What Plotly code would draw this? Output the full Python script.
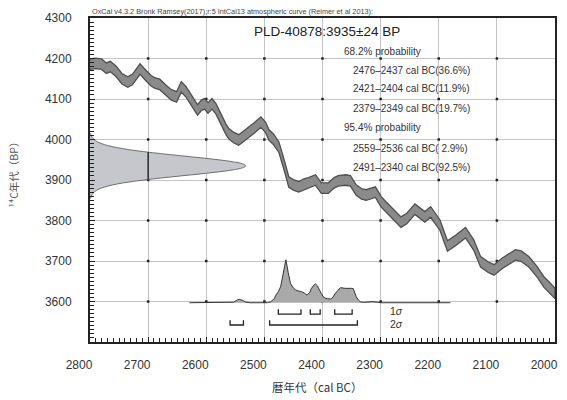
import numpy as np
import plotly.graph_objects as go

# ---------------- data ----------------
# IntCal13 calibration curve: year BC, 14C age BP
CURVE_YEAR = [2800, 2790, 2780, 2772, 2765, 2755, 2745, 2735, 2727, 2714, 2705, 2695,
              2689, 2680, 2670, 2660, 2651, 2643, 2635, 2625, 2615, 2608, 2603, 2597,
              2590, 2583, 2575, 2566, 2561, 2553, 2544, 2535, 2527, 2518, 2506, 2498,
              2492, 2484, 2475, 2467, 2458, 2450, 2441, 2432, 2424, 2412, 2402, 2390,
              2380, 2373, 2360, 2352, 2342, 2333, 2325, 2309, 2299, 2290, 2282, 2265,
              2255, 2241, 2224, 2214, 2198, 2185, 2170, 2154, 2140, 2128, 2115, 2105,
              2090, 2068, 2058, 2045, 2030, 2019, 2008, 2000]
CURVE_BP = [4186, 4188, 4186, 4176, 4180, 4168, 4150, 4142, 4148, 4174, 4160, 4145,
            4140, 4136, 4122, 4110, 4105, 4130, 4118, 4095, 4073, 4085, 4088, 4078,
            4088, 4075, 4050, 4025, 4014, 4005, 3999, 4010, 4018, 4028, 4043, 4030,
            4011, 4000, 3981, 3942, 3895, 3888, 3883, 3890, 3893, 3900, 3880, 3880,
            3893, 3898, 3900, 3898, 3875, 3866, 3863, 3870, 3846, 3832, 3821, 3796,
            3805, 3828, 3809, 3821, 3789, 3737, 3752, 3770, 3740, 3698, 3685, 3678,
            3695, 3715, 3712, 3698, 3672, 3648, 3632, 3620]
CURVE_SIGMA = 13  # half-width of the 1-sigma band (BP)

# measured radiocarbon date
DATE_LABEL = "PLD-40878:3935±24 BP"
DATE_BP = 3935
# normal-shaped date distribution on the y axis (offset from DATE_BP, relative width)
GAUSS_OFFSET = [-80, -75, -70, -65, -60, -55, -50, -45, -40, -35, -30, -25, -20, -15, -10, -5, 0,
                5, 10, 15, 20, 25, 30, 35, 40, 45, 50, 55, 60, 65, 70, 75, 80]
GAUSS_REL = [0.004, 0.008, 0.014, 0.026, 0.044, 0.073, 0.114, 0.172, 0.249, 0.345, 0.458,
             0.581, 0.707, 0.823, 0.917, 0.979, 1.0, 0.979, 0.917, 0.823, 0.707, 0.581,
             0.458, 0.345, 0.249, 0.172, 0.114, 0.073, 0.044, 0.026, 0.014, 0.008, 0.004]
GAUSS_SPAN = 268  # years at peak
GAUSS_MARK_YEAR = 2700

# calibrated probability distribution (relative)
PROB_YEAR = [2629, 2560, 2553, 2546, 2543, 2538, 2532, 2525, 2495, 2489, 2483, 2480, 2476,
             2472, 2468, 2463, 2459, 2455, 2450, 2446, 2441, 2436, 2431, 2427, 2422, 2419,
             2414, 2412, 2409, 2407, 2402, 2398, 2392, 2386, 2382, 2378, 2373, 2369, 2361,
             2355, 2350, 2347, 2344, 2342, 2338, 2335, 2330, 2320, 2315, 2311, 2305, 2300, 2180]
PROB_REL = [0, 0, 0.012, 0.07, 0.077, 0.058, 0.014, 0, 0, 0.023, 0.094, 0.18, 0.258,
            0.375, 0.656, 1.0, 0.703, 0.445, 0.34, 0.297, 0.27, 0.258, 0.222, 0.18, 0.234, 0.335,
            0.422, 0.438, 0.398, 0.335, 0.211, 0.124, 0.094, 0.087, 0.129, 0.218, 0.304, 0.351, 0.335,
            0.34, 0.335, 0.328, 0.234, 0.14, 0.059, 0.023, 0.009, 0.007, 0.023, 0.023, 0.012, 0, 0]
PROB_BASE = 3597
PROB_PEAK = 106

# ranges
SIG1_RANGES = [(2476, 2437), (2421, 2404), (2379, 2349)]
SIG2_RANGES = [(2559, 2536), (2491, 2340)]
TEXT_LINES = ["68.2% probability",
              "2476–2437 cal BC(36.6%)",
              "2421–2404 cal BC(11.9%)",
              "2379–2349 cal BC(19.7%)",
              "95.4% probability",
              "2559–2536 cal BC( 2.9%)",
              "2491–2340 cal BC(92.5%)"]
TEXT_INDENT = [False, True, True, True, False, True, True]

X_TICKS = [2800, 2700, 2600, 2500, 2400, 2300, 2200, 2100, 2000]
Y_TICKS = [3600, 3700, 3800, 3900, 4000, 4100, 4200, 4300]

HEADER = "OxCal v4.3.2 Bronk Ramsey(2017);r:5 IntCal13 atmospheric curve (Reimer et al 2013):"
X_TITLE = "暦年代（cal BC）"
Y_TITLE = "¹⁴C年代（BP）"

FONT = "Liberation Sans, Arial, Noto Sans CJK JP"
JFONT = "Noto Sans CJK JP, Liberation Sans"

# ---------------- figure ----------------
fig = go.Figure()

# grid intersection dots
gx, gy = [], []
for xv in X_TICKS[1:-1]:
    for yv in Y_TICKS[:-1]:
        gx.append(xv)
        gy.append(yv)
fig.add_trace(go.Scatter(x=gx, y=gy, mode="markers",
                         marker=dict(symbol="square", size=2.5, color="#222"),
                         hoverinfo="skip", showlegend=False))

# date distribution on y axis
g_bp = [DATE_BP + o for o in GAUSS_OFFSET]
g_x = [2800 - GAUSS_SPAN * w for w in GAUSS_REL]
fig.add_trace(go.Scatter(x=[2800] + g_x + [2800], y=[g_bp[0]] + g_bp + [g_bp[-1]],
                         mode="lines", fill="toself", fillcolor="#c6c7cc",
                         line=dict(color="#6f6f6f", width=1, shape="spline"),
                         hoverinfo="skip", showlegend=False))
# vertical mark inside distribution
w_mark = (2800 - GAUSS_MARK_YEAR) / GAUSS_SPAN
lo_off = np.interp(w_mark, GAUSS_REL[0:17], GAUSS_OFFSET[0:17])
fig.add_trace(go.Scatter(x=[GAUSS_MARK_YEAR, GAUSS_MARK_YEAR],
                         y=[DATE_BP + lo_off, DATE_BP - lo_off],
                         mode="lines", line=dict(color="black", width=1.2),
                         hoverinfo="skip", showlegend=False))

# calibration curve band
up = [b + CURVE_SIGMA for b in CURVE_BP]
dn = [b - CURVE_SIGMA for b in CURVE_BP]
fig.add_trace(go.Scatter(x=CURVE_YEAR + CURVE_YEAR[::-1], y=up + dn[::-1],
                         mode="lines", fill="toself", fillcolor="#8a8a8a",
                         line=dict(color="#505050", width=1.3),
                         hoverinfo="skip", showlegend=False))

# calibrated probability
p_y = [PROB_BASE + PROB_PEAK * p for p in PROB_REL]
fig.add_trace(go.Scatter(x=PROB_YEAR, y=p_y, mode="lines", fill="toself",
                         fillcolor="#a9a9a9", line=dict(color="#333333", width=1),
                         hoverinfo="skip", showlegend=False))


def brackets(ranges, top, bottom):
    xs, ys = [], []
    for a, b in ranges:
        xs += [a, a, b, b, None]
        ys += [top, bottom, bottom, top, None]
    return xs, ys


bx, by = brackets(SIG1_RANGES, 3581, 3569)
fig.add_trace(go.Scatter(x=bx, y=by, mode="lines", line=dict(color="#222", width=1.3),
                         hoverinfo="skip", showlegend=False))
bx, by = brackets(SIG2_RANGES, 3554, 3542)
fig.add_trace(go.Scatter(x=bx, y=by, mode="lines", line=dict(color="#222", width=1.3),
                         hoverinfo="skip", showlegend=False))

ann = []
ann.append(dict(x=2287, y=3576, xref="x", yref="y", text="1<i>σ</i>", showarrow=False,
                xanchor="left", yanchor="middle", font=dict(size=10.5, color="#333", family=FONT)))
ann.append(dict(x=2287, y=3544, xref="x", yref="y", text="2<i>σ</i>", showarrow=False,
                xanchor="left", yanchor="middle", font=dict(size=10.5, color="#333", family=FONT)))

# header
ann.append(dict(x=0, y=1, xref="paper", yref="paper", text=HEADER, showarrow=False,
                xanchor="left", yanchor="bottom", yshift=0,
                font=dict(size=7.3, color="#444", family=FONT)))
# date label
ann.append(dict(x=0.509, y=0.957, xref="paper", yref="paper", text=DATE_LABEL, showarrow=False,
                xanchor="center", yanchor="middle", font=dict(size=13.5, color="#222", family=FONT)))
# probability lines
line_y = [51, 70, 89, 108, 128, 148, 167]
for t, ind, py in zip(TEXT_LINES, TEXT_INDENT, line_y):
    px = 353 if ind else 344
    ann.append(dict(x=(px - 90) / 468, y=1 - (py - 18) / 324, xref="paper", yref="paper",
                    text=t, showarrow=False, xanchor="left", yanchor="middle",
                    font=dict(size=10, color="#333", family=FONT)))
# axis titles
ann.append(dict(x=(318 - 90) / 468, y=-(387 - 342) / 324, xref="paper", yref="paper",
                text=X_TITLE, showarrow=False, xanchor="center", yanchor="middle",
                font=dict(size=11.5, color="#333", family=JFONT)))
ann.append(dict(x=-(90 - 13) / 468, y=1 - (172 - 18) / 324, xref="paper", yref="paper",
                text=Y_TITLE, showarrow=False, xanchor="center", yanchor="middle",
                textangle=-90, font=dict(size=10.5, color="#555", family=JFONT)))

fig.update_layout(
    width=567, height=400,
    margin=dict(l=90, r=9, t=18, b=58),
    paper_bgcolor="white", plot_bgcolor="white",
    annotations=ann,
    showlegend=False,
)
fig.update_xaxes(
    range=[2800, 2000], tickmode="linear", tick0=2000, dtick=100,
    ticks="inside", ticklen=5, tickcolor="#222", tickwidth=1,
    minor=dict(dtick=10, tick0=2000, ticks="inside", ticklen=4, tickcolor="#222",
               tickwidth=1, showgrid=False),
    showgrid=True, gridcolor="#c4c4c4", gridwidth=1,
    showline=True, linecolor="#222", linewidth=2, mirror=True,
    zeroline=False, tickfont=dict(size=12, color="#333", family=FONT),
    ticklabelshift=11, ticklabelstandoff=11,
)
fig.update_yaxes(
    range=[3500, 4300], tickmode="linear", tick0=3500, dtick=100,
    labelalias={"3500": " "},
    ticks="inside", ticklen=5, tickcolor="#222", tickwidth=1,
    minor=dict(dtick=10, tick0=3500, ticks="inside", ticklen=4, tickcolor="#222",
               tickwidth=1, showgrid=False),
    showgrid=True, gridcolor="#c4c4c4", gridwidth=1,
    showline=True, linecolor="#222", linewidth=2, mirror=True,
    zeroline=False, tickfont=dict(size=12, color="#333", family=FONT),
    ticklabelstandoff=14,
)

fig.write_html("out.html")
